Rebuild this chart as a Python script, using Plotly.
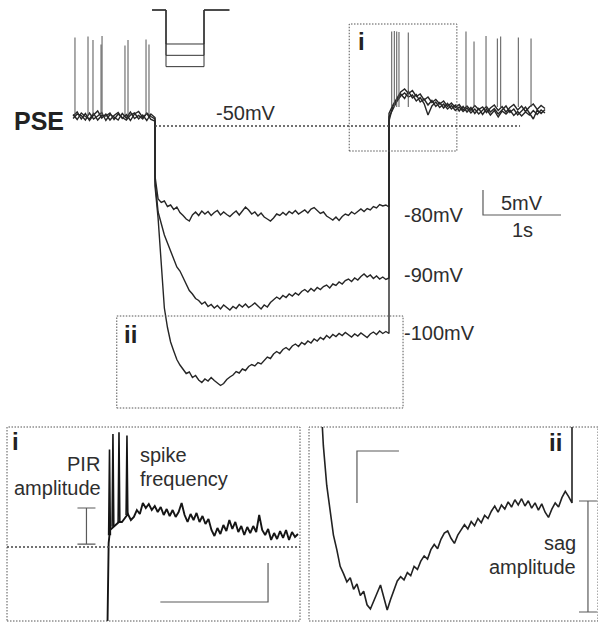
import numpy as np
import plotly.graph_objects as go

W, H = 598, 622

# ---------------- main recording: time (s) / membrane potential (mV) ----------------
pre_t_range = (-1.05, 0.0)
step_t_range = (0.0, 3.0)
post_t_range = (3.0, 5.0)

sweep80_pre = [-48.0, -47.2, -48.6, -47.5, -48.9, -47.8, -47.0, -48.4, -47.6, -48.8, -47.9,
               -47.3, -48.5, -47.7, -48.9, -47.6, -47.1, -48.3, -47.5, -48.7, -49.0]
sweep90_pre = [-48.5, -47.6, -47.9, -48.8, -47.4, -48.6, -48.0, -47.3, -48.9, -47.7, -48.2,
               -48.8, -47.5, -48.4, -47.2, -48.5, -47.9, -48.6, -47.4, -48.1, -48.6]
sweep100_pre = [-47.7, -48.7, -47.4, -48.1, -48.6, -47.5, -48.8, -47.9, -48.0, -47.4, -48.7,
                -47.6, -48.3, -48.8, -47.8, -47.4, -48.6, -47.8, -48.9, -47.6, -48.3]

sweep80_step = [-60.0, -64.6, -65.3, -65.0, -66.1, -65.8, -66.7, -66.2, -67.3, -67.9, -68.6,
                -69.0, -67.8, -67.2, -67.9, -67.0, -67.6, -67.1, -67.9, -67.3, -66.9, -67.8,
                -67.2, -67.7, -68.1, -67.5, -67.0, -67.8, -66.9, -66.2, -66.8, -67.6, -67.2,
                -68.0, -67.4, -68.2, -68.6, -69.0, -68.4, -67.6, -67.9, -67.3, -67.8, -67.1,
                -67.5, -66.9, -67.6, -67.2, -66.8, -67.4, -66.6, -66.3, -67.0, -67.5, -67.2,
                -68.0, -68.4, -68.8, -68.2, -68.9, -68.1, -67.6, -67.9, -67.2, -67.6, -67.0,
                -66.6, -67.1, -66.5, -66.8, -66.1, -66.4, -65.7, -66.0, -65.8, -66.2]
sweep90_step = [-61.0, -67.2, -69.6, -71.8, -73.4, -75.1, -76.6, -78.2, -79.0, -80.4, -81.5,
                -82.9, -83.6, -84.5, -84.9, -85.6, -85.2, -86.1, -85.7, -86.4, -85.9, -86.6,
                -85.8, -86.3, -86.8, -86.1, -86.5, -85.7, -86.2, -85.6, -86.3, -85.9, -85.4,
                -86.0, -86.6, -85.8, -86.2, -85.3, -84.8, -84.2, -84.6, -83.9, -84.3, -83.6,
                -84.0, -83.4, -83.8, -83.1, -82.7, -83.2, -82.5, -83.0, -82.3, -82.7, -82.1,
                -81.8, -82.4, -81.6, -81.9, -81.2, -81.6, -80.9, -80.6, -81.1, -80.4, -80.8,
                -80.1, -79.6, -80.2, -79.8, -80.5, -80.0, -80.6, -80.2, -80.7, -80.4]
sweep100_step = [-62.0, -68.5, -78.0, -86.4, -90.3, -93.2, -95.0, -96.7, -97.8, -98.6, -99.5,
                 -99.2, -100.3, -99.9, -100.8, -101.3, -100.6, -101.0, -100.3, -100.9, -101.4,
                 -101.9, -101.5, -100.7, -100.2, -99.8, -99.1, -99.4, -98.6, -98.9, -98.1,
                 -97.7, -98.0, -97.3, -97.6, -96.8, -96.2, -96.5, -95.6, -95.1, -95.5, -94.7,
                 -94.3, -94.8, -94.0, -93.6, -94.1, -93.3, -93.7, -93.0, -93.4, -92.6, -93.0,
                 -92.3, -92.7, -91.9, -92.4, -91.7, -92.1, -91.5, -91.9, -91.3, -91.8, -92.2,
                 -91.6, -92.0, -91.4, -91.9, -92.3, -91.6, -91.2, -91.7, -91.0, -91.5, -91.1,
                 -91.5]

sweep80_post = [-47.5, -45.8, -44.6, -43.2, -42.6, -43.5, -42.9, -44.1, -43.6, -44.8, -44.2,
                -45.3, -44.7, -45.6, -45.0, -46.1, -45.4, -46.3, -45.7, -46.8, -46.0, -46.9,
                -45.9, -46.7, -46.2, -47.3, -46.4, -45.8, -46.9, -46.1, -47.2, -46.3, -45.7,
                -46.8, -46.0, -47.1, -46.2, -45.6, -46.7, -45.9, -46.5]
sweep90_post = [-48.2, -46.5, -45.1, -44.0, -43.4, -44.2, -43.8, -45.0, -44.3, -45.5, -47.8,
                -46.0, -45.2, -46.3, -45.6, -46.6, -45.9, -46.9, -46.2, -47.1, -46.4, -47.4,
                -46.6, -47.6, -46.8, -46.1, -47.2, -46.5, -47.6, -46.7, -46.0, -47.3, -46.6,
                -47.8, -46.9, -46.2, -47.4, -48.6, -46.8, -47.5, -46.7]
sweep100_post = [-49.0, -46.0, -44.9, -43.6, -44.5, -43.1, -44.4, -43.7, -45.2, -44.6, -45.8,
                 -44.9, -46.1, -45.3, -46.4, -45.5, -46.6, -45.8, -47.0, -46.1, -47.2, -46.3,
                 -47.5, -46.5, -47.7, -46.6, -47.8, -46.9, -48.2, -47.0, -47.6, -46.8, -47.9,
                 -47.1, -48.0, -47.2, -47.8, -46.9, -47.7, -46.8, -47.4]

pre_spike_t = [-1.026, -0.859, -0.795, -0.692, -0.679, -0.385, -0.346, -0.115, -0.077]
pre_spike_peak = [-32.3, -32.1, -32.8, -33.7, -32.0, -33.9, -32.8, -32.7, -33.7]
post_spike_t = [3.035, 3.068, 3.099, 3.128, 3.247, 3.987, 4.09, 4.244, 4.389, 4.432, 4.658, 4.821]
post_spike_peak = [-31.1, -31.0, -31.1, -31.2, -31.3, -31.1, -33.1, -32.0, -32.5, -32.1, -32.3, -32.5]
spike_base_pre = -47.8
spike_base_post = -46.2

holding_mV = -50
dotted_end_t = 4.68

# command protocol icon (schematic)
command_levels = [-80, -90, -100]
icon_t = [-1.1, 0.0, 3.0, 5.0]

# zoom regions marked on the main traces [t0, t1, v0, v1]
zoom_i = [2.49, 3.87, -55.0, -29.6]
zoom_ii = [-0.49, 3.18, -106.4, -88.0]

# main scale bar: origin (s, mV) and size (1 s, 5 mV)
scalebar_main = [4.205, -67.8, 1.0, 5.0]

# ---------------- inset i: post-inhibitory rebound ----------------
pir_rise_t = [2.99, 3.003]
pir_rise_v = [-75.0, -49.5]
pir_t_range = (3.0093, 3.882)
pir_v = [-47.82, -47.44, -47.18, -46.79, -46.79, -46.28, -45.77, -46.54, -46.15, -45.26, -45.77,
         -44.36, -45.0, -44.49, -45.26, -44.74, -45.51, -44.87, -45.90, -45.13, -46.03, -45.26,
         -46.15, -45.51, -44.36, -45.90, -46.79, -45.77, -46.54, -45.64, -46.79, -46.03, -47.05,
         -46.41, -47.82, -48.59, -47.56, -48.33, -47.18, -47.95, -46.54, -47.69, -46.79, -48.08,
         -47.31, -48.46, -47.44, -48.21, -47.31, -48.08, -45.90, -47.82, -48.46, -47.69, -49.10,
         -48.21, -48.97, -47.95, -48.84, -47.82, -49.10, -48.08, -48.72, -48.33]
pir_spike_t = [3.007, 3.023, 3.051, 3.088]
pir_spike_peak = [-37.5, -35.5, -35.3, -35.7]
pir_spike_base = [-48.5, -47.4, -46.9, -45.9]
pir_amp = [2.90, -49.62, -45.0]     # t, low, high
scalebar_i = [3.243, -57.05, 0.5, 5.0]

# ---------------- inset ii: sag ----------------
sag_t_range = (0.0, 3.0)
sag_v = [-80.0, -86.0, -89.8, -92.4, -94.6, -96.0, -97.6, -98.3, -99.1, -98.7, -99.8, -99.3,
         -100.4, -100.0, -101.3, -101.7, -100.9, -100.2, -99.4, -100.6, -101.8, -100.8, -99.9,
         -99.0, -98.6, -98.9, -98.2, -98.5, -97.6, -97.9, -97.1, -96.6, -96.9, -96.0, -95.5,
         -95.9, -95.0, -94.4, -94.2, -94.9, -95.4, -94.6, -94.1, -93.6, -94.0, -93.3, -93.7,
         -93.0, -93.4, -92.7, -93.0, -92.3, -91.8, -92.4, -91.7, -92.1, -91.4, -91.9, -91.2,
         -91.7, -91.1, -91.8, -91.3, -92.0, -91.5, -92.2, -91.6, -92.4, -92.9, -92.1, -91.5,
         -91.9, -91.0, -90.4, -90.9, -91.5]
sag_release_v = -80.0
sag_amp = [3.19, -101.99, -91.32]
scalebar_ii = [0.44, -86.51, 0.5, 5.0]

# ---------------- styling ----------------
FONT = "Liberation Sans, Arial, sans-serif"
TRACE = "#262626"
GRAY = "#5a5a5a"
TXT = "#2e2e2e"
DOT = "2px,2px"


def px2paper(xp, yp):
    return xp / W, 1 - yp / H


fig = go.Figure()

# --- main sweeps ---
for pre, step, post in [(sweep80_pre, sweep80_step, sweep80_post),
                        (sweep90_pre, sweep90_step, sweep90_post),
                        (sweep100_pre, sweep100_step, sweep100_post)]:
    t = np.concatenate([np.linspace(*pre_t_range, len(pre)),
                        np.linspace(*step_t_range, len(step)),
                        np.linspace(*post_t_range, len(post))])
    v = np.concatenate([pre, step, post])
    fig.add_trace(go.Scatter(x=t, y=v, mode="lines", line=dict(color=TRACE, width=1.4),
                             xaxis="x", yaxis="y", hoverinfo="skip"))

# spikes
sx, sy = [], []
for ts, pk in zip(pre_spike_t, pre_spike_peak):
    sx += [ts, ts, None]
    sy += [spike_base_pre, pk, None]
for ts, pk in zip(post_spike_t, post_spike_peak):
    sx += [ts, ts, None]
    sy += [spike_base_post, pk, None]
fig.add_trace(go.Scatter(x=sx, y=sy, mode="lines", line=dict(color="#555555", width=1),
                         xaxis="x", yaxis="y", hoverinfo="skip"))

# main scale bar
t0, v0, dt, dv = scalebar_main
fig.add_trace(go.Scatter(x=[t0, t0, t0 + dt], y=[v0 + dv, v0, v0], mode="lines",
                         line=dict(color=GRAY, width=1.2), xaxis="x", yaxis="y", hoverinfo="skip"))

# command icon
for lvl in command_levels:
    fig.add_trace(go.Scatter(x=[icon_t[0], icon_t[1], icon_t[1], icon_t[2], icon_t[2], icon_t[3]],
                             y=[holding_mV, holding_mV, lvl, lvl, holding_mV, holding_mV],
                             mode="lines", line=dict(color="#333333", width=1),
                             xaxis="x4", yaxis="y4", hoverinfo="skip"))

# --- inset i ---
pt = np.concatenate([pir_rise_t, np.linspace(*pir_t_range, len(pir_v))])
pv = np.concatenate([pir_rise_v, pir_v])
fig.add_trace(go.Scatter(x=pt, y=pv, mode="lines", line=dict(color="#151515", width=1.9),
                         xaxis="x2", yaxis="y2", hoverinfo="skip"))
kx, ky = [], []
for ts, pk, bs in zip(pir_spike_t, pir_spike_peak, pir_spike_base):
    kx += [ts - 0.004, ts, ts + 0.004, None]
    ky += [bs, pk, bs, None]
fig.add_trace(go.Scatter(x=kx, y=ky, mode="lines", line=dict(color="#151515", width=1.6),
                         xaxis="x2", yaxis="y2", hoverinfo="skip"))
fig.add_trace(go.Scatter(x=[pir_amp[0]], y=[(pir_amp[1] + pir_amp[2]) / 2], mode="markers",
                         marker=dict(size=1, color="rgba(0,0,0,0)"),
                         error_y=dict(type="data", array=[(pir_amp[2] - pir_amp[1]) / 2],
                                      width=9, thickness=1.2, color=GRAY),
                         xaxis="x2", yaxis="y2", hoverinfo="skip"))
t0, v0, dt, dv = scalebar_i
fig.add_trace(go.Scatter(x=[t0, t0 + dt, t0 + dt], y=[v0, v0, v0 + dv], mode="lines",
                         line=dict(color=GRAY, width=1.2), xaxis="x2", yaxis="y2", hoverinfo="skip"))

# --- inset ii ---
st = np.concatenate([np.linspace(*sag_t_range, len(sag_v)), [sag_t_range[1]]])
sv = np.concatenate([sag_v, [sag_release_v]])
fig.add_trace(go.Scatter(x=st, y=sv, mode="lines", line=dict(color="#222222", width=1.6),
                         xaxis="x3", yaxis="y3", hoverinfo="skip"))
fig.add_trace(go.Scatter(x=[sag_amp[0]], y=[(sag_amp[1] + sag_amp[2]) / 2], mode="markers",
                         marker=dict(size=1, color="rgba(0,0,0,0)"),
                         error_y=dict(type="data", array=[(sag_amp[2] - sag_amp[1]) / 2],
                                      width=9, thickness=1.2, color=GRAY),
                         xaxis="x3", yaxis="y3", hoverinfo="skip"))
t0, v0, dt, dv = scalebar_ii
fig.add_trace(go.Scatter(x=[t0, t0, t0 + dt], y=[v0 - dv, v0, v0], mode="lines",
                         line=dict(color=GRAY, width=1.2), xaxis="x3", yaxis="y3", hoverinfo="skip"))

# ---------------- axes (pixel-calibrated ranges) ----------------
# main: t=0 at 155 px, 78 px/s ; -50 mV at 126 px, 5 px/mV
mx0, msx, my0, msy = 155, 78.0, 126, 5.0
main_x = [(0 - mx0) / msx, (W - mx0) / msx]
main_y = [-50 - (H - my0) / msy, -50 + my0 / msy]
# icon: t=0 at 166 px, 12.67 px/s ; -50 mV at 10 px, 1.133 px/mV
ix0, isx, iy0, isy = 166, 12.67, 10, 1.133
icon_x = [(0 - ix0) / isx, (W - ix0) / isx]
icon_y = [-50 - (H - iy0) / isy, -50 + iy0 / isy]

ins_top, ins_bot = 427, 621
# inset i: t=3.0 at 108 px, 215.4 px/s ; -50 mV at 547 px, 7.8 px/mV
i_x = [3.0 + (7 - 108) / 215.4, 3.0 + (300 - 108) / 215.4]
i_y = [-50 - (ins_bot - 547) / 7.8, -50 + (547 - ins_top) / 7.8]
# inset ii: t=0 at 320 px, 84 px/s ; -101.8 mV at 610 px, 10.4 px/mV
ii_x = [(309 - 320) / 84, (W - 320) / 84]
ii_y = [-101.8 - (ins_bot - 610) / 10.4, -101.8 + (610 - ins_top) / 10.4]

hid = dict(visible=False, showgrid=False, zeroline=False)
ydom = [1 - ins_bot / H, 1 - ins_top / H]
fig.update_layout(
    xaxis=dict(range=main_x, domain=[0, 1], anchor="y", **hid),
    yaxis=dict(range=main_y, domain=[0, 1], anchor="x", **hid),
    xaxis4=dict(range=icon_x, overlaying="x", anchor="y4", **hid),
    yaxis4=dict(range=icon_y, overlaying="y", anchor="x4", **hid),
    xaxis2=dict(range=i_x, domain=[7 / W, 300 / W], anchor="y2", **hid),
    yaxis2=dict(range=i_y, domain=ydom, anchor="x2", **hid),
    xaxis3=dict(range=ii_x, domain=[309 / W, 1.0], anchor="y3", **hid),
    yaxis3=dict(range=ii_y, domain=ydom, anchor="x3", **hid),
)

# ---------------- shapes ----------------
dotline = dict(color="#444444", width=1.3, dash=DOT)
boxline = dict(color="#555555", width=1, dash="1.5px,1.5px")
shapes = [
    dict(type="line", xref="x", yref="y", x0=0, x1=dotted_end_t, y0=holding_mV, y1=holding_mV,
         line=dotline),
    dict(type="rect", xref="x", yref="y", x0=zoom_i[0], x1=zoom_i[1], y0=zoom_i[2], y1=zoom_i[3],
         line=boxline),
    dict(type="rect", xref="x", yref="y", x0=zoom_ii[0], x1=zoom_ii[1], y0=zoom_ii[2],
         y1=zoom_ii[3], line=boxline),
    dict(type="rect", xref="x2 domain", yref="y2 domain", x0=0, x1=1, y0=0, y1=1, line=boxline),
    dict(type="line", xref="x2 domain", yref="y2", x0=0, x1=1, y0=holding_mV, y1=holding_mV,
         line=dotline),
    dict(type="rect", xref="x3 domain", yref="y3 domain", x0=0, x1=1, y0=0, y1=1, line=boxline),
]
fig.update_layout(shapes=shapes)

# ---------------- text ----------------
ann = []


def txt(text, xp, yp, size, xanchor="left", bold=False, color=TXT):
    x, y = px2paper(xp, yp)
    ann.append(dict(text=f"<b>{text}</b>" if bold else text, x=x, y=y, xref="paper",
                    yref="paper", xanchor=xanchor, yanchor="middle", showarrow=False,
                    font=dict(family=FONT, size=size, color=color)))


txt("PSE", 12, 121, 25, bold=True, color="#222222")
txt("-50mV", 246, 113, 20, xanchor="center")
txt("-80mV", 402, 215, 20)
txt("-90mV", 402, 275, 20)
txt("-100mV", 402, 333, 20)
txt("5mV", 522, 203, 20, xanchor="center")
txt("1s", 522, 230, 20, xanchor="center")
txt("i", 356, 42, 24, bold=True, color="#222222")
txt("ii", 122, 334, 24, bold=True, color="#222222")
txt("i", 10, 441, 24, bold=True, color="#222222")
txt("PIR", 102, 464, 20, xanchor="right")
txt("amplitude", 103, 488, 20, xanchor="right")
txt("spike", 138, 455, 20)
txt("frequency", 138, 479, 20)
txt("ii", 564, 442, 24, xanchor="right", bold=True, color="#222222")
txt("sag", 578, 543, 20, xanchor="right")
txt("amplitude", 578, 567, 20, xanchor="right")

fig.update_layout(annotations=ann, width=W, height=H, autosize=False,
                  margin=dict(l=0, r=0, t=0, b=0), showlegend=False,
                  paper_bgcolor="white", plot_bgcolor="rgba(0,0,0,0)")

fig.write_html("out.html")
